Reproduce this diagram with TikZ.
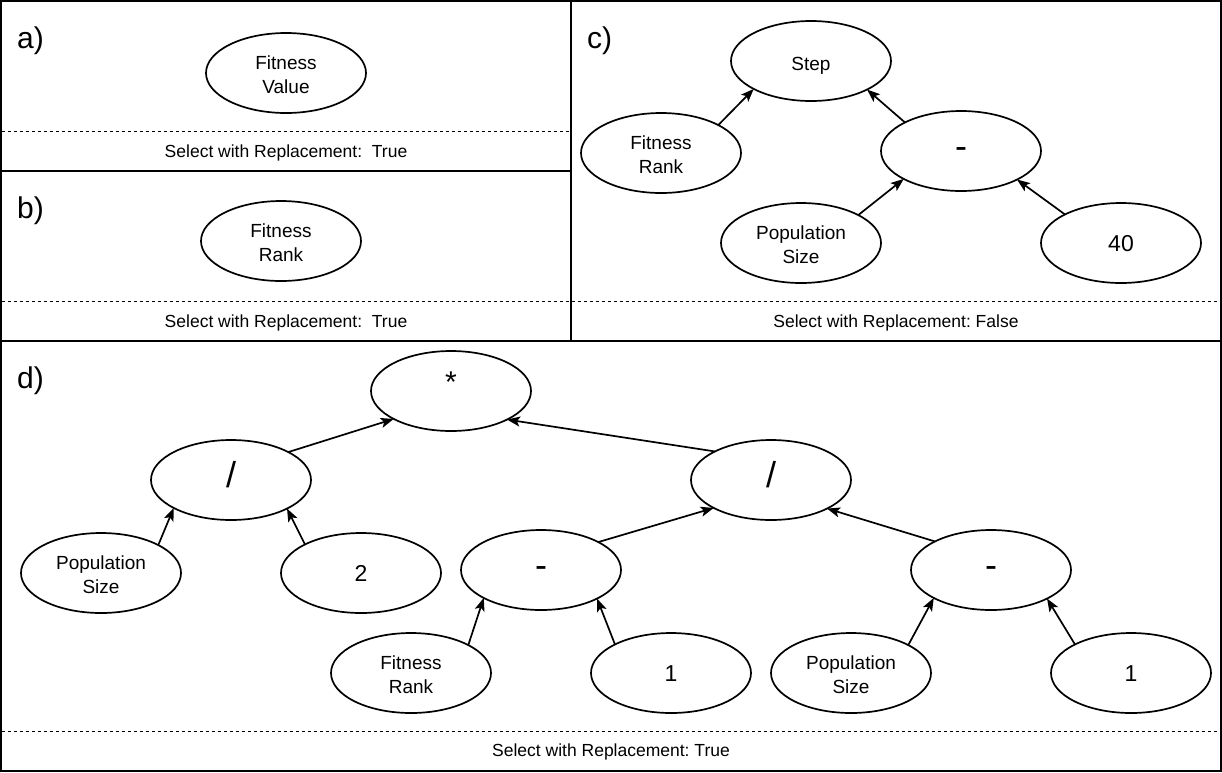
\documentclass[tikz,border=0pt]{standalone}
\usepackage{fontspec}
\setmainfont{Liberation Sans}
\usetikzlibrary{arrows.meta,shapes.geometric}
\newcommand\twolines[2]{\raisebox{-3.5pt}[\height][\depth]{\begin{tabular}{@{}c@{}}#1\\#2\end{tabular}}}
\begin{document}
\begin{tikzpicture}[x=1pt,y=-1pt,
  base/.style={ellipse,draw,line width=1.7pt,minimum width=160pt,minimum height=80pt,inner sep=0pt,outer sep=0pt},
  tn/.style={base,font=\fontsize{19}{24}\selectfont},
  word/.style={base,font=\fontsize{19}{24}\selectfont,text height=18pt,text depth=0pt},
  numn/.style={base,font=\fontsize{23}{28}\selectfont,text height=17pt,text depth=0pt},
  opn/.style={base,font=\fontsize{36}{40}\selectfont,text height=15pt,text depth=0pt},
  starn/.style={base,font=\fontsize{30}{34}\selectfont,text height=3pt,text depth=0pt},
  panel/.style={draw,line width=2.2pt},
  sep/.style={line width=1pt,dash pattern=on 3pt off 3pt},
  sel/.style={font=\fontsize{17.5}{20}\selectfont\frenchspacing,inner sep=0pt},
  lab/.style={font=\fontsize{30}{34}\selectfont,inner sep=0pt,anchor=base west},
  arr/.style={line width=1.7pt,-{Stealth[length=13pt,width=10pt,inset=3pt]}}]
\useasboundingbox (0,0) rectangle (1222,772);
\fill[white] (0,0) rectangle (1222,772);
% panels
\draw[panel] (1,1) rectangle (571,171);
\draw[panel] (1,171) rectangle (571,341);
\draw[panel] (571,1) rectangle (1221,341);
\draw[panel] (1,341) rectangle (1221,771);
% dashed separators
\coordinate (sa1) at (2,131); \coordinate (sa2) at (570,131);
\coordinate (sb1) at (2,301); \coordinate (sb2) at (570,301);
\coordinate (sc1) at (572,301); \coordinate (sc2) at (1220,301);
\coordinate (sd1) at (2,731); \coordinate (sd2) at (1220,731);
\draw[sep] (sa1) -- (sa2);
\draw[sep] (sb1) -- (sb2);
\draw[sep] (sc1) -- (sc2);
\draw[sep] (sd1) -- (sd2);
% labels
\node[lab] (la) at (17,48) {a)};
\node[lab] (lb) at (17,218) {b)};
\node[lab] (lc) at (587,48) {c)};
\node[lab] (ld) at (17,388) {d)};
% selection texts
\node[sel] (ta) at (286,153) {Select with Replacement:~ True};
\node[sel] (tb) at (286,323) {Select with Replacement:~ True};
\node[sel] (tc) at (896,323) {Select with Replacement: False};
\node[sel] (td) at (611,752) {Select with Replacement: True};
% panel a
\node[tn] (fv) at (286,73) {\twolines{Fitness}{Value}};
% panel b
\node[tn] (frb) at (281,241) {\twolines{Fitness}{Rank}};
% panel c
\node[word] (step) at (811,61) {Step};
\node[tn] (frc) at (661,153) {\twolines{Fitness}{Rank}};
\node[opn] (mc) at (961,151) {-};
\node[tn] (psc) at (801,243) {\twolines{Population}{Size}};
\node[numn] (n40) at (1121,243) {40};
\draw[arr] (frc.26.57) -- (step.206.57);
\draw[arr] (mc.153.43) -- (step.333.43);
\draw[arr] (psc.26.57) -- (mc.206.57);
\draw[arr] (n40.153.43) -- (mc.333.43);
% panel d
\node[starn] (mul) at (451,391) {*};
\node[opn] (dl) at (231,480) {/};
\node[opn] (dr) at (771,480) {/};
\node[tn] (psd1) at (101,573) {\twolines{Population}{Size}};
\node[numn] (n2) at (361,573) {2};
\node[opn] (m1) at (541,570) {-};
\node[opn] (m2) at (991,570) {-};
\node[tn] (frd) at (411,673) {\twolines{Fitness}{Rank}};
\node[numn] (one1) at (671,673) {1};
\node[tn] (psd2) at (851,673) {\twolines{Population}{Size}};
\node[numn] (one2) at (1131,673) {1};
\draw[arr] (dl.26.57) -- (mul.206.57);
\draw[arr] (dr.153.43) -- (mul.333.43);
\draw[arr] (psd1.26.57) -- (dl.206.57);
\draw[arr] (n2.153.43) -- (dl.333.43);
\draw[arr] (m1.26.57) -- (dr.206.57);
\draw[arr] (m2.153.43) -- (dr.333.43);
\draw[arr] (frd.26.57) -- (m1.206.57);
\draw[arr] (one1.153.43) -- (m1.333.43);
\draw[arr] (psd2.26.57) -- (m2.206.57);
\draw[arr] (one2.153.43) -- (m2.333.43);
\end{tikzpicture}
\end{document}
